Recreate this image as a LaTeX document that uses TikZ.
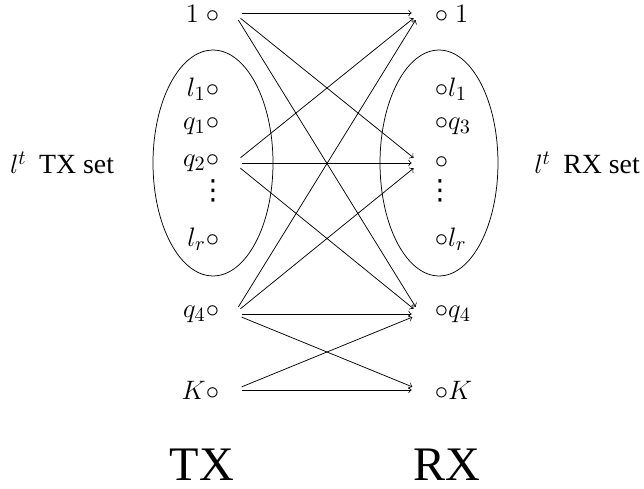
\documentclass[tikz,border=0pt]{standalone}
\usepackage[no-math]{fontspec}
\setmainfont{Liberation Serif}
\newfontfamily\dotsfont{DejaVu Sans}
\usetikzlibrary{shapes.geometric}
\newcommand{\mydots}{{\dotsfont ⋮}}
\begin{document}
\begin{tikzpicture}[x=0.54pt,y=-0.54pt,
  lab/.style={inner sep=0pt, font=\fontsize{15}{17}\selectfont},
  lft/.style={lab, anchor=east},
  rgt/.style={lab, anchor=west},
  dotnode/.style={inner sep=0pt, font=\fontsize{15}{17}\selectfont},
  port/.style={circle, inner sep=0pt, minimum size=8.6pt},
  big/.style={inner sep=0pt, font=\fontsize{26}{30}\selectfont},
  oval/.style={draw, ellipse, inner sep=0pt, minimum height=122pt},
  every path/.style={line width=0.4pt}]
\useasboundingbox (0,0) rectangle (644,489);
% left labels
\node[lft] (L1)  at (219.5,14)  {$1\ \circ$};
\node[lft] (Ll1) at (219.5,89)  {$l_1\circ$};
\node[lft] (Lq1) at (219.5,126) {$q_1\circ$};
\node[lft] (Lq2) at (219.5,163) {$q_2\circ$};
\node[dotnode] (Ld)  at (213,191) {\mydots};
\node[lft] (Llr) at (219.5,239) {$l_r\circ$};
\node[lft] (Lq4) at (219.5,314) {$q_4\circ$};
\node[lft] (LK)  at (219.5,390) {$K\circ$};
% right labels
\node[rgt] (R1)  at (434.5,14)  {$\circ\ 1$};
\node[rgt] (Rl1) at (434.5,89)  {$\circ l_1$};
\node[rgt] (Rq3) at (434.5,126) {$\circ q_3$};
\node[rgt] (Rm)  at (434.5,163) {$\circ$};
\node[dotnode] (Rd)  at (440,191) {\mydots};
\node[rgt] (Rlr) at (434.5,239) {$\circ l_r$};
\node[rgt] (Rq4) at (434.5,314) {$\circ q_4$};
\node[rgt] (RK)  at (434.5,390) {$\circ K$};
% ellipses
\node[oval, minimum width=64.8pt] (EL) at (213,163) {};
\node[oval, minimum width=63.7pt] (ER) at (439,163) {};
% side labels
\node[lab] (TXset) at (62,163) {$l^t$\hspace{0.2em} TX set};
\node[lab] (RXset) at (587,163) {$l^t$\hspace{0.2em} RX set};
\node[big] (TX) at (202,465) {TX};
\node[big] (RX) at (447,465) {RX};
% ports
\node[port] (a1) at (234,13) {};
\node[port] (a2) at (234,163) {};
\node[port] (a4) at (234,314) {};
\node[port] (aK) at (234,390) {};
\node[port] (b1) at (420,13) {};
\node[port] (bm) at (420,163) {};
\node[port] (b4) at (420,314) {};
\node[port] (bK) at (420,390) {};
% edges
\foreach \s/\t in {a1/b1,a1/bm,a1/b4,a2/b1,a2/bm,a2/b4,a4/b1,a4/bm,a4/b4,a4/bK,aK/b4,aK/bK}
  \draw[->] (\s) -- (\t);
\end{tikzpicture}
\end{document}
